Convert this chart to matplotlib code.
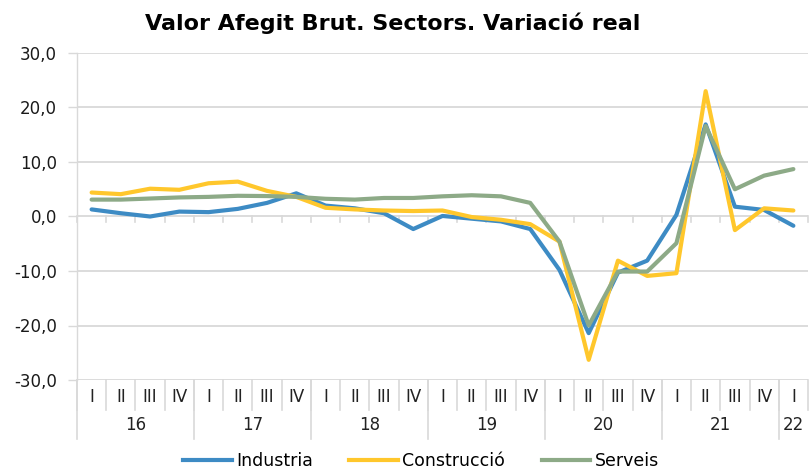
import matplotlib
matplotlib.use("Agg")
import matplotlib.pyplot as plt
from matplotlib.lines import Line2D

quarters = ["I", "II", "III", "IV"] * 6 + ["I"]
years = ["16", "17", "18", "19", "20", "21", "22"]
year_counts = [4, 4, 4, 4, 4, 4, 1]

industria = [1.3, 0.6, 0.0, 0.9, 0.8, 1.4, 2.5, 4.25, 2.0, 1.5, 0.6, -2.3,
             0.1, -0.4, -0.9, -2.3, -9.8, -21.4, -10.3, -8.1, 0.3, 16.9, 1.8, 1.2, -1.7]
construccio = [4.4, 4.1, 5.1, 4.9, 6.1, 6.4, 4.7, 3.6, 1.6, 1.3, 1.1, 1.0,
               1.1, -0.1, -0.6, -1.4, -4.6, -26.3, -8.1, -10.9, -10.4, 23.0, -2.5, 1.5, 1.1]
serveis = [3.1, 3.1, 3.3, 3.5, 3.6, 3.8, 3.75, 3.6, 3.25, 3.1, 3.4, 3.4,
           3.7, 3.9, 3.7, 2.5, -4.6, -20.0, -10.1, -10.1, -4.9, 16.6, 5.0, 7.5, 8.7]

series_names = ["Industria", "Construcció", "Serveis"]
colors = ["#3D8BC4", "#FFC72C", "#8DAA87"]
yticks = [-30, -20, -10, 0, 10, 20, 30]

plt.rcParams['font.family'] = ['DejaVu Sans']

fig = plt.figure(figsize=(8.09, 4.70), dpi=100)
ax = fig.add_axes([77/809, 1-380/470, (808-77)/809, (380-53)/470])

n = len(quarters)
x = list(range(n))
grid_c = "#D9D9D9"
for yv in yticks:
    ax.axhline(yv, color=grid_c, lw=1.3, zorder=1)

for data, c, name in zip([industria, construccio, serveis], colors, series_names):
    ax.plot(x, data, color=c, lw=3.0, label=name, zorder=3, solid_capstyle='round')

ax.set_xlim(-0.5, n - 0.5)
ax.set_ylim(-30, 30)
ax.set_yticks(yticks)
ax.set_yticklabels([f"{v:.1f}".replace(".", ",") for v in yticks], fontsize=12, color="#1a1a1a")
ax.tick_params(axis='y', length=6.5, width=1.0, color=grid_c, pad=8)
ax.set_xticks([])
for s in ax.spines.values():
    s.set_visible(False)
ax.spines['left'].set_visible(True)
ax.spines['left'].set_color(grid_c)
ax.spines['left'].set_linewidth(1.0)

# small ticks under zero line at category boundaries
for b in range(n + 1):
    ax.plot([b - 0.5, b - 0.5], [0, -1.0], color=grid_c, lw=1.2, zorder=1, clip_on=False)

# category labels below
trans = ax.get_xaxis_transform()
def yfrac(py):
    return (380 - py) / (380 - 53)
for i, q in enumerate(quarters):
    ax.text(i, yfrac(397), q, transform=trans, ha='center', va='center', fontsize=12, color="#222222")
for b in range(n + 1):
    ax.plot([b - 0.5, b - 0.5], [0, yfrac(410)], transform=trans, color=grid_c, lw=1.2, clip_on=False)
start = 0
for yr, cnt in zip(years, year_counts):
    ax.plot([start - 0.5, start - 0.5], [0, yfrac(439)], transform=trans, color=grid_c, lw=1.2, clip_on=False)
    ax.text(start + (cnt - 1) / 2, yfrac(425), yr, transform=trans, ha='center', va='center', fontsize=12, color="#222222")
    start += cnt

fig.text(393/809, 1-23/470, "Valor Afegit Brut. Sectors. Variació real", ha='center', va='center',
         fontsize=16, fontweight='bold')

handles = [Line2D([0], [0], color=c, lw=3.0) for c in colors]
fig.legend(handles, series_names, loc='center', bbox_to_anchor=(421/809, 1-461/470), ncol=3,
           frameon=False, fontsize=12.5, handlelength=2.8, handletextpad=0.25, columnspacing=2.1,
           borderaxespad=0)

fig.savefig("out.png", dpi=100)
